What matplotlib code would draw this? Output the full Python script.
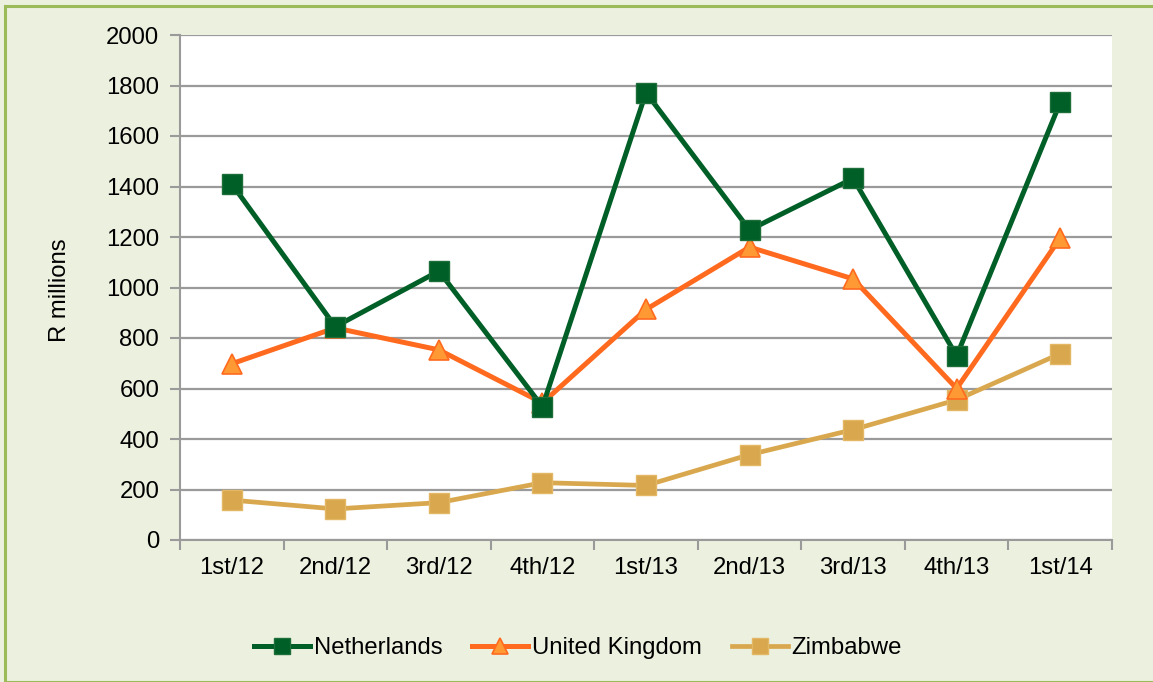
import matplotlib
matplotlib.use("Agg")
import matplotlib.pyplot as plt
from matplotlib.patches import Rectangle

categories = ["1st/12", "2nd/12", "3rd/12", "4th/12", "1st/13", "2nd/13", "3rd/13", "4th/13", "1st/14"]
netherlands = [1410, 845, 1065, 528, 1772, 1228, 1432, 729, 1733]
united_kingdom = [698, 840, 753, 543, 913, 1160, 1034, 600, 1196]
zimbabwe = [158, 123, 148, 227, 216, 338, 437, 555, 738]
yticks = [0, 200, 400, 600, 800, 1000, 1200, 1400, 1600, 1800, 2000]

plt.rcParams['font.family'] = ['Liberation Sans', 'DejaVu Sans']
FS = 17.2

W, H = 1153, 682
fig = plt.figure(figsize=(W / 100, H / 100), dpi=100)
bg = "#ECF0DF"
fig.patch.set_facecolor(bg)
fig.patches.append(Rectangle((5 / W, 0.5 / H), (W - 2) / W, (H - 6) / H, transform=fig.transFigure,
                             fill=False, edgecolor="#9BBB59", linewidth=2.2))

left, right, top, bottom = 180, 1112, 35, 540
ax = fig.add_axes([left / W, 1 - bottom / H, (right - left) / W, (bottom - top) / H])
ax.set_facecolor("white")

x = [i + 0.5 for i in range(len(categories))]
ax.plot(x, zimbabwe, color="#D9A84E", lw=3.4, marker="s", ms=14, mfc="#D9A84E", mec="#E3B764",
        mew=1, label="Zimbabwe", zorder=3)
ax.plot(x, united_kingdom, color="#FF6A1F", lw=3.6, marker="^", ms=15, mfc="#FF9933", mec="#FF6A1F",
        mew=1.2, label="United Kingdom", zorder=4)
ax.plot(x, netherlands, color="#005F27", lw=3.6, marker="s", ms=14, mfc="#005F27", mec="#1E6E3A",
        mew=1, label="Netherlands", zorder=5)

ax.set_xlim(0, len(categories))
ax.set_ylim(0, 2000)
ax.set_yticks(yticks)
ax.yaxis.grid(True, color="#9A9A9A", lw=1.6)
ax.set_axisbelow(True)
ax.set_xticks(range(len(categories) + 1))
ax.set_xticklabels([])
ax.set_xticks(x, minor=True)
ax.set_xticklabels(categories, minor=True)
ax.tick_params(axis='x', which='minor', length=0, pad=12, labelsize=FS)
ax.tick_params(axis='x', which='major', length=7, width=1.5, color="#9A9A9A", direction='out')
ax.tick_params(axis='y', length=7, width=1.5, color="#9A9A9A", labelsize=FS, pad=8)
for s in ["top", "right"]:
    ax.spines[s].set_visible(False)
for s in ["left", "bottom"]:
    ax.spines[s].set_color("#9A9A9A")
    ax.spines[s].set_linewidth(1.5)

fig.text(60 / W, 1 - 290 / H, "R millions", rotation=90, ha="center", va="center", fontsize=FS)

h, l = ax.get_legend_handles_labels()
order = [2, 1, 0]
leg = fig.legend([h[i] for i in order], [l[i] for i in order], loc="center",
                 bbox_to_anchor=(578 / W, 1 - 648 / H), ncol=3, frameon=False, fontsize=FS,
                 handlelength=2.35, handletextpad=0.15, columnspacing=1.25, markerscale=0.8)

fig.savefig("out.png", dpi=100, facecolor=bg)
